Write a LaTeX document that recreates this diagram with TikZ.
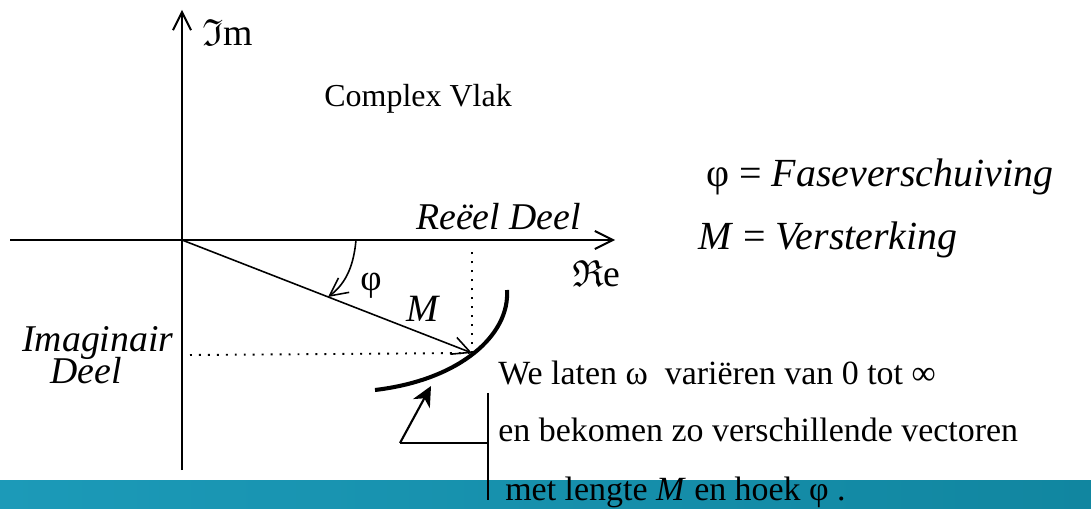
\documentclass[tikz,border=0pt]{standalone}
\usepackage{amssymb}
\usepackage{fontspec}
\setmainfont{Liberation Serif}
\usetikzlibrary{arrows.meta,positioning}
\definecolor{bandl}{RGB}{28,154,184}
\definecolor{bandr}{RGB}{17,134,160}
\newcommand{\fs}[1]{\fontsize{#1}{1.2\dimexpr#1pt\relax}\selectfont}
\newcommand{\imagfont}{\fontsize{21.5}{18.5}\selectfont\itshape\lineskiplimit-50pt\relax}
\begin{document}
\begin{tikzpicture}[x=0.02cm,y=-0.02cm,>={Straight Barb[length=3.6mm,width=3.6mm]},font=\fs{19.3}]
\tikzstyle{t}=[inner sep=0pt]
\tikzstyle{it}=[inner sep=0pt,font=\fs{21.5}\itshape]
\tikzstyle{leg}=[inner sep=0pt,anchor=base west,font=\fs{22.7}]
\tikzstyle{dots}=[line width=1.1pt,dash pattern=on 1.1pt off 4pt]
\useasboundingbox (0,0) rectangle (1091,509);
\fill[left color=bandl,right color=bandr] (0,480) rectangle (1091,509);
% axes
\coordinate (O) at (182,240);
\coordinate (ytop) at (182,10); \coordinate (ybot) at (182,470);
\coordinate (xl) at (10,240); \coordinate (xr) at (615,240);
\draw[->,line width=1.1pt] (ybot) -- (ytop);
\draw[->,line width=1.1pt] (xl) -- (xr);
\node[t,anchor=base west,font=\fs{21.5}] (im) at (202,46) {$\mathfrak{I}$m};
\node[t,anchor=base west,font=\fs{21.5}] (re) at (572,287) {$\mathfrak{R}$e};
\node[t,anchor=base west,font=\fs{18.2}] (vlak) at (324,107) {Complex Vlak};
\node[it,anchor=base west] (reel) at (416,230) {Reëel Deel};
\node[t,align=left,anchor=base west,font=\imagfont] (imag) at (22,384)
  {Imaginair\\\hspace*{16pt}Deel};
% vector and its projections
\coordinate (P) at (472,353);
\coordinate (Px) at (472,248); \coordinate (Py) at (190,355);
\draw[dots] (P) -- (Px);
\draw[dots] (Py) -- (P);
\draw[->,line width=0.9pt] (O) -- (P);
\node[t,anchor=base west,font=\fs{21}] (phi) at (360,291) {φ};
\node[it,anchor=base west,font=\fs{22}\itshape] (M) at (406,322) {M};
\coordinate (a1) at (356,240); \coordinate (a2) at (328,297);
\draw[->,line width=0.9pt] (a1) .. controls (354,262) and (348,282) .. (a2);
% locus
\coordinate (ctop) at (507,290); \coordinate (cbot) at (375,390);
\draw[line width=2.3pt] (ctop) .. controls (510,335) and (460,380) .. (cbot);
\coordinate (k) at (400,443); \coordinate (tipc) at (431,386);
\coordinate (bk) at (488,443); \coordinate (bt) at (488,393); \coordinate (bb) at (488,500);
\draw[line width=1.2pt,-{Stealth[length=4mm,width=3.8mm,inset=1.2mm]}] (k) -- (tipc);
\draw[line width=1.2pt] (k) -- (bk);
\draw[line width=1.2pt] (bt) -- (bb);
\node[t,anchor=base west] (l1) at (498,385) {We laten ω~ variëren van 0 tot ∞};
\node[t,anchor=base west] (l2) at (498,441) {en bekomen zo verschillende vectoren};
\node[t,anchor=base west] (l3) at (505,500) {met lengte \textit{M} en hoek φ .};
% legend
\node[leg] (fase) at (706,187) {φ = \textit{Faseverschuiving}};
\node[leg] (verst) at (698,250) {\textit{M} = \textit{Versterking}};
\end{tikzpicture}
\end{document}
